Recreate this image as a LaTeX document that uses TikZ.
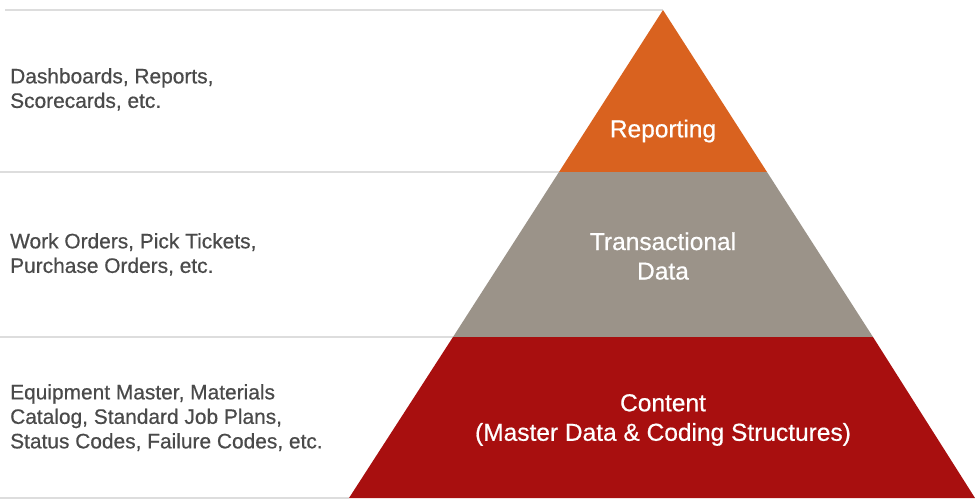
\documentclass[tikz,border=0pt]{standalone}
\usepackage{fontspec}
\setmainfont[FakeBold=0.6]{Liberation Sans}
\definecolor{repOrange}{HTML}{D9621F}
\definecolor{transGray}{HTML}{9B9389}
\definecolor{contRed}{HTML}{A80F0F}
\definecolor{txtGray}{HTML}{4A4A4A}
\definecolor{ruleGray}{HTML}{DDDDDD}
\begin{document}
\begin{tikzpicture}[x=1pt,y=-1pt,
  rule/.style={draw=ruleGray,line width=1.2pt},
  sidetext/.style={anchor=north west,align=left,text=txtGray,font=\fontsize{20.9}{24.5}\selectfont,inner sep=0pt},
  layertext/.style={align=center,text=white,font=\fontsize{24.5}{29.5}\selectfont,inner sep=0pt}]
\useasboundingbox (0,0) rectangle (975,501);
% guide lines
\draw[rule] (5,10) -- (663,10);
\draw[rule] (0,172) -- (559,172);
\draw[rule] (0,337) -- (453,337);
\draw[rule] (0,498) -- (349,498);
% layers
\fill[repOrange] (663,10) -- (767,172) -- (559,172) -- cycle;
\fill[transGray] (559,172) -- (767,172) -- (873,337) -- (453,337) -- cycle;
\fill[contRed] (453,337) -- (873,337) -- (975,498) -- (349,498) -- cycle;
% layer labels
\node[layertext] (rep) at (663,131) {Reporting};
\node[layertext] (trans) at (663,256) {Transactional\\Data};
\node[layertext] (cont) at (663,420) {Content\\(Master Data \& Coding Structures)};
% side texts
\node[sidetext] (s1) at (10,68) {Dashboards, Reports,\\Scorecards, etc.};
\node[sidetext] (s2) at (10,233) {Work Orders, Pick Tickets,\\Purchase Orders, etc.};
\node[sidetext] (s3) at (10,384) {Equipment Master, Materials\\Catalog, Standard Job Plans,\\Status Codes, Failure Codes, etc.};
\end{tikzpicture}
\end{document}
